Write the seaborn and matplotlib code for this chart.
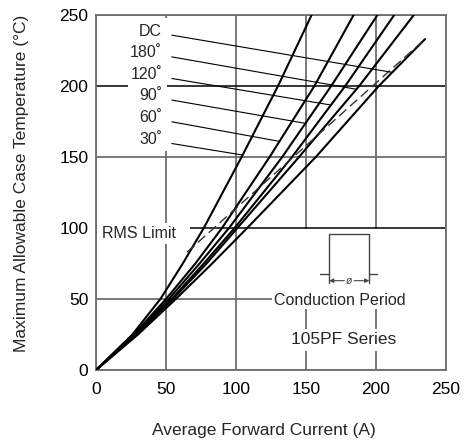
import numpy as np
import pandas as pd
import matplotlib
matplotlib.use('Agg')
import matplotlib.pyplot as plt
from matplotlib.patches import Rectangle
import seaborn as sns

# Case temperature levels (deg C) at which the curves were read
case_temp = [0, 25, 50, 75, 100, 150, 200, 250]
current_30 = [0, 26, 46, 62, 77, 104, 130, 154]
current_60 = [0, 27, 50, 71, 90, 124, 156, 184]
current_90 = [0, 28, 52, 74, 95, 133, 168, 201]
current_120 = [0, 28.5, 54, 77, 99, 140, 178, 213]
current_180 = [0, 29, 55, 79, 101, 145, 188, 227]
# DC curve stops below 250
dc_temp = [0, 25, 50, 75, 100, 150, 200, 233]
current_dc = [0, 30, 57, 83, 108, 157, 202, 235]

# RMS limit (dashed)
rms_current = [65, 235]
rms_temp = [83, 233]

curve_labels = ['DC', '180˚', '120˚', '90˚', '60˚', '30˚']
# temperature where each label's leader meets its curve
leader_temp = [209.6, 197.7, 186.6, 173.7, 161.0, 151.4]

x_ticks = [0, 50, 100, 150, 200, 250]
y_ticks = [0, 50, 100, 150, 200, 250]

# build long-form table
curves = {
    'DC': (current_dc, dc_temp),
    '180˚': (current_180, case_temp),
    '120˚': (current_120, case_temp),
    '90˚': (current_90, case_temp),
    '60˚': (current_60, case_temp),
    '30˚': (current_30, case_temp),
}
rows = []
for name, (cur, tmp) in curves.items():
    for c, t in zip(cur, tmp):
        rows.append({'curve': name, 'current': c, 'temp': t})
df = pd.DataFrame(rows)

sns.set_theme(style='white')
plt.rcParams['font.family'] = ['Liberation Sans', 'DejaVu Sans']

GRAY = '#6e6e6e'
W, H = 469, 441
fig = plt.figure(figsize=(W / 100, H / 100), dpi=100)
ax = fig.add_axes([96 / W, 1 - 370 / H, 350 / W, 355 / H])

sns.lineplot(data=df, x='current', y='temp', units='curve', estimator=None,
             sort=False, color='black', lw=1.5, ax=ax, zorder=3)
ax.plot(rms_current, rms_temp, color='#333333', lw=1.0,
        dashes=(7, 3.5), zorder=3)

ax.set_xlim(0, 250)
ax.set_ylim(0, 250)
ax.set_xticks(x_ticks)
ax.set_yticks(y_ticks)
ax.set_xlabel('')
ax.set_ylabel('')
ax.tick_params(axis='both', length=0, labelsize=12.5, colors='black')
ax.tick_params(axis='x', pad=9)
ax.tick_params(axis='y', pad=5.5)

ax.grid(True, color=GRAY, lw=1.3)
for i, gl in enumerate(ax.get_ygridlines()):
    if y_ticks[i] in (100, 200):
        gl.set_color('black')
        gl.set_linewidth(1.1)
for sp in ax.spines.values():
    sp.set_color(GRAY)
    sp.set_linewidth(1.3)
    sp.set_visible(True)

# white areas behind the annotations
for (x0, y0, w, h) in [(23, 154, 28, 94), (0.5, 88.5, 66.5, 15),
                       (125.7, 43, 123.8, 56.3), (137, 13.4, 81, 15.5)]:
    ax.add_patch(Rectangle((x0, y0), w, h, facecolor='white',
                           edgecolor='none', zorder=1.7))

# curve labels and leaders
label_y = [238.7, 223.4, 208.2, 193.0, 177.7, 162.4]
for name, ly, lt in zip(curve_labels, label_y, leader_temp):
    cur, tmp = curves[name]
    lx = np.interp(lt, tmp, cur)
    ax.text(47.3, ly, name, ha='right', va='center', fontsize=11.5, zorder=4)
    ax.plot([54.1, lx], [ly - 2.9, lt], color='black', lw=0.8, zorder=3)

ax.text(4.1, 96.3, 'RMS Limit', ha='left', va='center', fontsize=11.5, zorder=4)
ax.text(174.5, 48.7, 'Conduction Period', ha='center', va='center',
        fontsize=11.5, zorder=4)
ax.text(177, 21.8, '105PF Series', ha='center', va='center',
        fontsize=12.5, zorder=4)

# conduction pulse symbol
pl, pr, ptop, pbase, pbot = 166.6, 195.2, 95.6, 67.4, 61.1
pc = '#444444'
ax.plot([pl, pl, pr, pr], [pbot, ptop, ptop, pbot], color=pc, lw=1.0, zorder=4)
ax.plot([160, pl], [pbase, pbase], color=pc, lw=1.0, zorder=4)
ax.plot([pr, 200.9], [pbase, pbase], color=pc, lw=1.0, zorder=4)
ya = 62.9
mid = (pl + pr) / 2
ax.annotate('', xy=(pl, ya), xytext=(mid - 3.5, ya),
            arrowprops=dict(arrowstyle='-|>', lw=0.8, color=pc,
                            mutation_scale=6, shrinkA=0, shrinkB=0), zorder=4)
ax.annotate('', xy=(pr, ya), xytext=(mid + 3.5, ya),
            arrowprops=dict(arrowstyle='-|>', lw=0.8, color=pc,
                            mutation_scale=6, shrinkA=0, shrinkB=0), zorder=4)
ax.text(mid, ya, 'ø', ha='center', va='center', fontsize=7.5,
        style='italic', color=pc, zorder=4)

fig.text(264 / W, 1 - 430 / H, 'Average Forward Current (A)',
         ha='center', va='center', fontsize=12.5)
fig.text(22 / W, 1 - 183 / H, 'Maximum Allowable Case Temperature (°C)',
         ha='center', va='center', rotation=90, fontsize=12.5)

fig.savefig('out.png', dpi=100)
